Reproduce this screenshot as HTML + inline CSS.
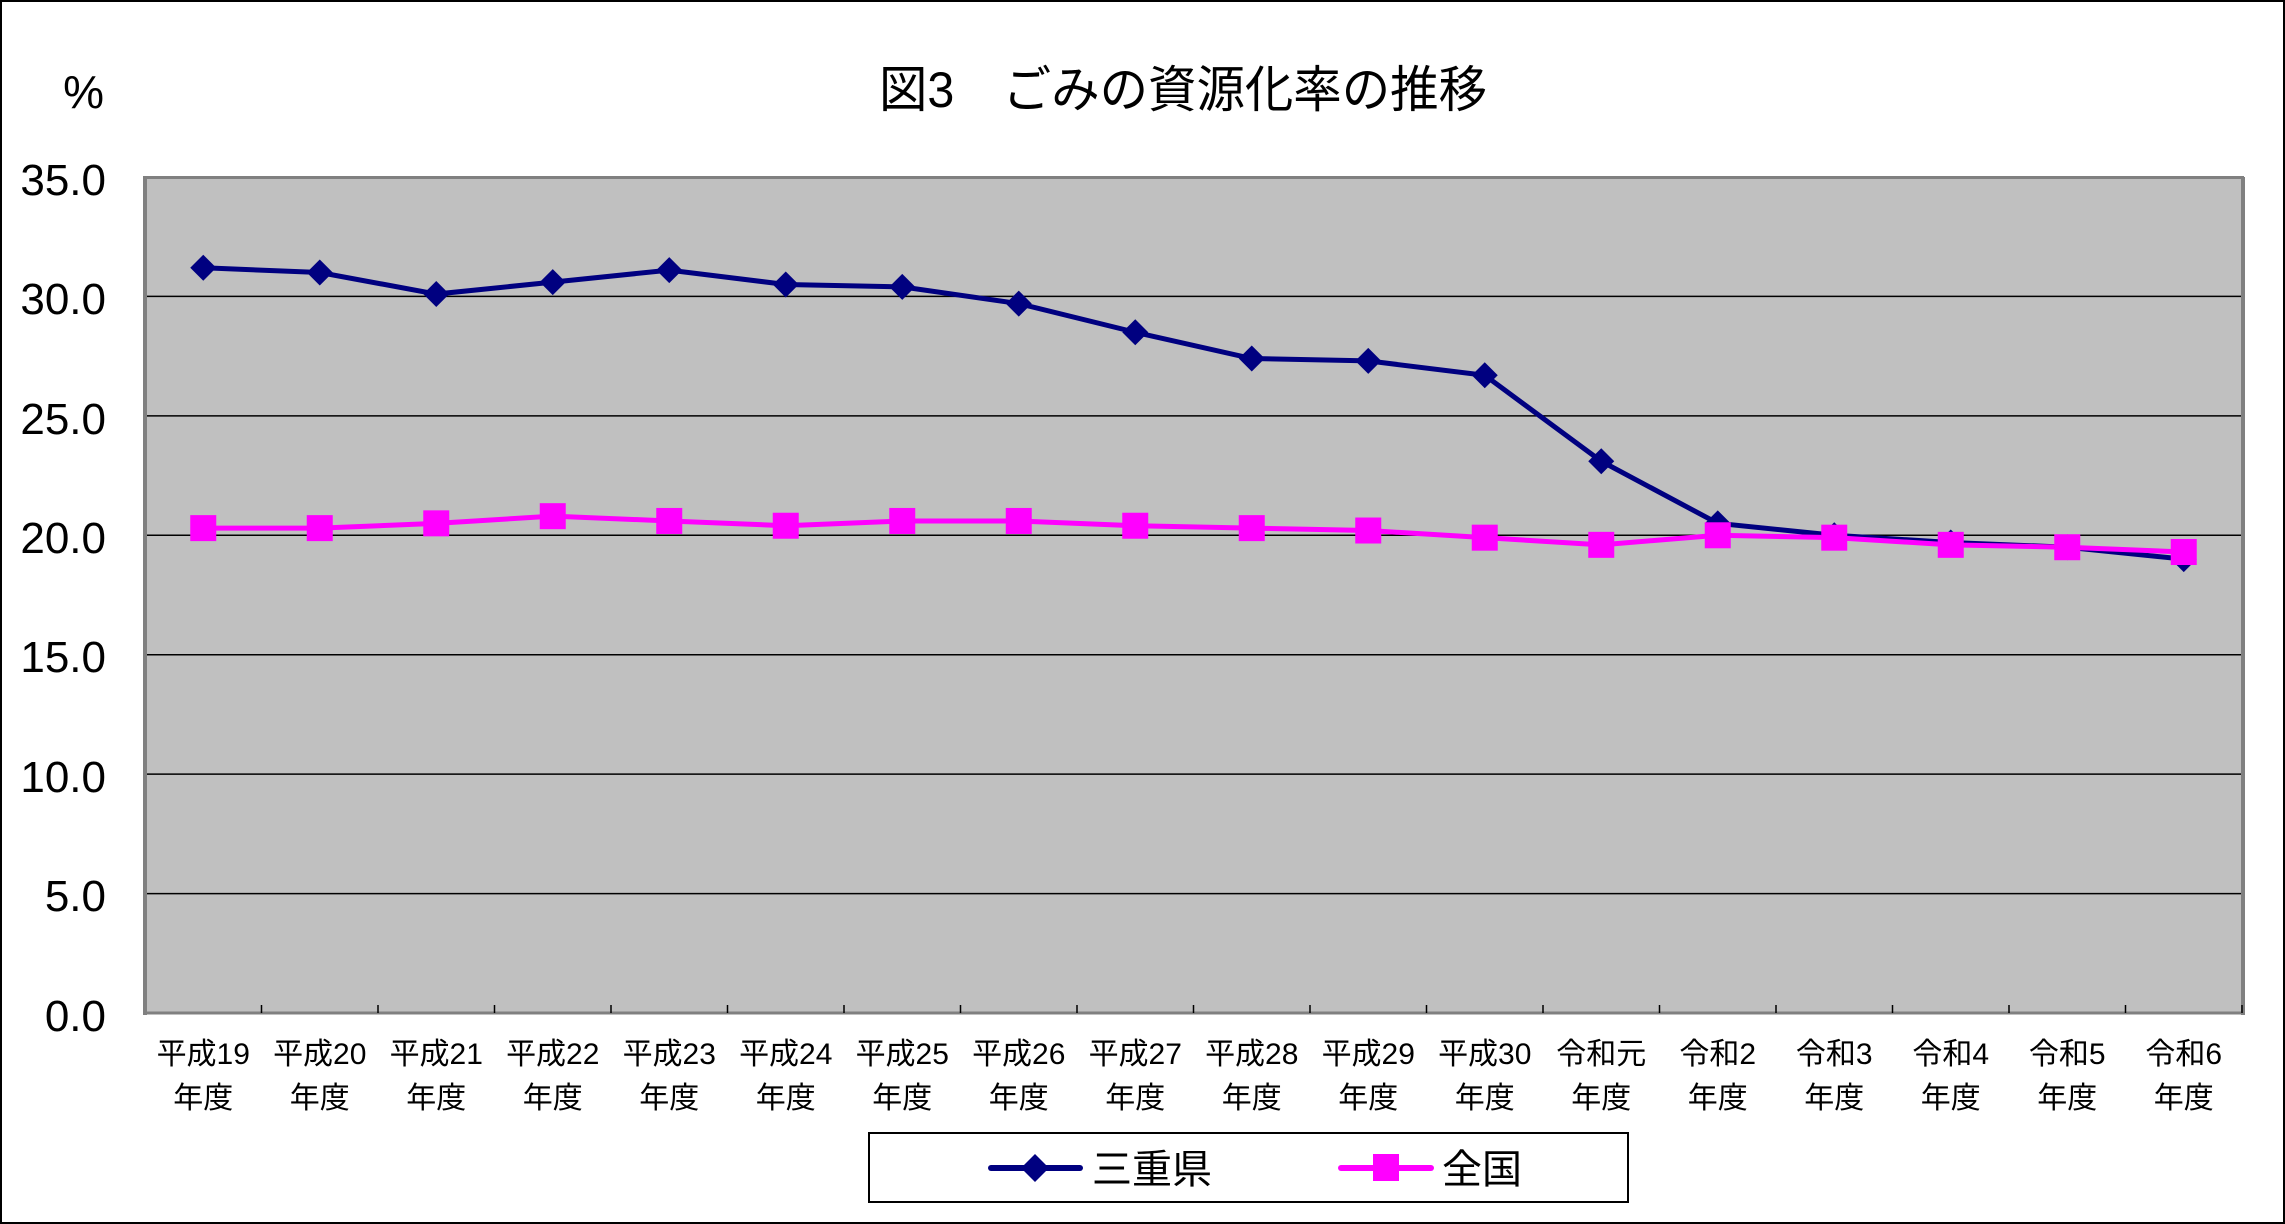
<!DOCTYPE html>
<html><head><meta charset="utf-8"><style>
html,body{margin:0;padding:0;background:#fff}
svg{display:block}
text{font-family:"Liberation Sans","Noto Sans CJK JP",sans-serif;fill:#000}
</style></head><body>
<svg width="2285" height="1224" viewBox="0 0 2285 1224" xmlns="http://www.w3.org/2000/svg">
<rect x="1" y="1" width="2283" height="1222" fill="#fff" stroke="#000" stroke-width="2"/>
<text x="879" y="107" font-size="50" textLength="608" lengthAdjust="spacingAndGlyphs">図3　ごみの資源化率の推移</text>
<text x="104" y="108" font-size="46" text-anchor="end">%</text>
<rect x="145" y="177" width="2097" height="836" fill="#c0c0c0"/>
<g stroke="#000" stroke-width="1.5">
<line x1="145" y1="296.4" x2="2242" y2="296.4"/>
<line x1="145" y1="415.9" x2="2242" y2="415.9"/>
<line x1="145" y1="535.3" x2="2242" y2="535.3"/>
<line x1="145" y1="654.7" x2="2242" y2="654.7"/>
<line x1="145" y1="774.1" x2="2242" y2="774.1"/>
<line x1="145" y1="893.6" x2="2242" y2="893.6"/>
</g>
<line x1="145" y1="177.5" x2="2244" y2="177.5" stroke="#808080" stroke-width="3"/>
<line x1="2243" y1="177" x2="2243" y2="1015" stroke="#808080" stroke-width="4"/>
<line x1="145" y1="1013" x2="2244" y2="1013" stroke="#808080" stroke-width="3"/>
<line x1="145" y1="176" x2="145" y2="1015" stroke="#808080" stroke-width="4"/>
<g stroke="#000" stroke-width="1.5" id="ticks"></g>
<g font-size="44" text-anchor="end" id="ylab">
<text x="106" y="195">35.0</text>
<text x="106" y="314">30.0</text>
<text x="106" y="434">25.0</text>
<text x="106" y="553">20.0</text>
<text x="106" y="672">15.0</text>
<text x="106" y="792">10.0</text>
<text x="106" y="911">5.0</text>
<text x="106" y="1031">0.0</text>
</g>
<g id="xlab" font-size="30" text-anchor="middle"></g>
<g id="series"></g>
<rect x="869" y="1133" width="759" height="69" fill="#fff" stroke="#000" stroke-width="2"/>
<line x1="991" y1="1168" x2="1080" y2="1168" stroke="#000080" stroke-width="6" stroke-linecap="round"/>
<polygon points="1035,1154 1049,1168 1035,1182 1021,1168" fill="#000080"/>
<text x="1092" y="1183" font-size="40">三重県</text>
<line x1="1341" y1="1168" x2="1431" y2="1168" stroke="#ff00ff" stroke-width="6" stroke-linecap="round"/>
<rect x="1373" y="1154" width="26" height="27" fill="#ff00ff"/>
<text x="1442" y="1183" font-size="40">全国</text>
</svg>
<script>
var ns="http://www.w3.org/2000/svg";
var L=145,W=2097/18,Y0=1013,S=836/35;
var labs=["平成19","平成20","平成21","平成22","平成23","平成24","平成25","平成26","平成27","平成28","平成29","平成30","令和元","令和2","令和3","令和4","令和5","令和6"];
var mie=[31.2,31.0,30.1,30.6,31.1,30.5,30.4,29.7,28.5,27.4,27.3,26.7,23.1,20.5,20.0,19.7,19.5,19.0];
var nat=[20.3,20.3,20.5,20.8,20.6,20.4,20.6,20.6,20.4,20.3,20.2,19.9,19.6,20.0,19.9,19.6,19.5,19.3];
var t=document.getElementById("ticks"),xl=document.getElementById("xlab"),s=document.getElementById("series");
function el(n,a,p){var e=document.createElementNS(ns,n);for(var k in a)e.setAttribute(k,a[k]);p.appendChild(e);return e;}
for(var i=1;i<=18;i++){var x=L+i*W;el("line",{x1:x,y1:1005,x2:x,y2:1013},t);}
labs.forEach(function(l,i){var x=L+(i+.5)*W;el("text",{x:x,y:1064},xl).textContent=l;el("text",{x:x,y:1108},xl).textContent="年度";});
function pts(d){return d.map(function(v,i){return (L+(i+.5)*W)+","+(Y0-v*S);}).join(" ");}
el("polyline",{points:pts(mie),fill:"none",stroke:"#000080","stroke-width":5},s);
el("polyline",{points:pts(nat),fill:"none",stroke:"#ff00ff","stroke-width":5},s);
mie.forEach(function(v,i){var x=L+(i+.5)*W,y=Y0-v*S;el("polygon",{points:(x)+","+(y-13)+" "+(x+13)+","+y+" "+x+","+(y+13)+" "+(x-13)+","+y,fill:"#000080"},s);});
nat.forEach(function(v,i){var x=L+(i+.5)*W,y=Y0-v*S;el("rect",{x:x-13,y:y-13,width:26,height:26,fill:"#ff00ff"},s);});
</script>
</body></html>
